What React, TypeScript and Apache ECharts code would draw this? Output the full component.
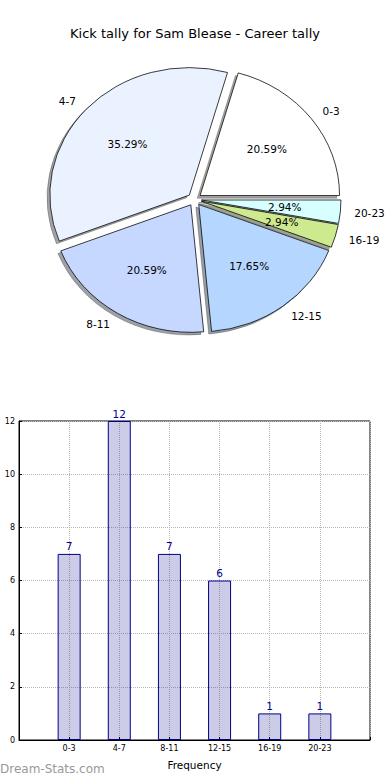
import React, { useEffect, useRef } from 'react';
import * as echarts from 'echarts';

const titleText = 'Kick tally for Sam Blease - Career tally';
const categories = ['0-3', '4-7', '8-11', '12-15', '16-19', '20-23'];
const counts = [7, 12, 7, 6, 1, 1];
const sliceColors = ['#FFFFFF', '#EBF2FF', '#C6D8FF', '#B5D6FF', '#CEEA8E', '#D8FFFF'];
const xAxisName = 'Frequency';
const watermark = 'Dream-Stats.com';

const FONT = 'DejaVu Sans';

function hexToRgb(h: string) {
  const n = parseInt(h.slice(1), 16);
  return [(n >> 16) & 255, (n >> 8) & 255, n & 255];
}

export default function App() {
  const ref = useRef<HTMLDivElement>(null);
  useEffect(() => {
    if (!ref.current) return;
    const chart = echarts.init(ref.current, null, { renderer: 'svg' });
    const total = counts.reduce((a, b) => a + b, 0);
    const P = { cx: 194.5, cy: 199.4, rx: 139.5, ry: 127.5, explode: 0.05 };

    const renderItem = (params: any, api: any) => {
      const i = params.dataIndex;
      const v = api.value(0);
      let before = 0;
      for (let k = 0; k < i; k++) before += counts[k];
      const a0 = (before / total) * Math.PI * 2;
      const a1 = ((before + v) / total) * Math.PI * 2;
      const mid = (a0 + a1) / 2;
      const c = Math.cos(mid);
      const s = Math.sin(mid);
      const ox = P.cx + P.explode * P.rx * c;
      const oy = P.cy - P.explode * P.ry * s;
      const scaleY = P.ry / P.rx;
      const rgb = hexToRgb(sliceColors[i]);
      const shadowFill = `rgba(${Math.round(rgb[0] * 0.3)},${Math.round(rgb[1] * 0.3)},${Math.round(rgb[2] * 0.3)},0.5)`;
      const shape = { cx: 0, cy: 0, r: P.rx, r0: 0, startAngle: -a1, endAngle: -a0, clockwise: true };
      const pct = ((v / total) * 100).toFixed(2) + '%';
      return {
        type: 'group',
        children: [
          {
            type: 'sector',
            x: ox - 2.8,
            y: oy + 2.6,
            scaleY,
            shape,
            z2: 1,
            style: { fill: shadowFill, stroke: shadowFill, lineWidth: 0.8, strokeNoScale: true },
          },
          {
            type: 'sector',
            x: ox,
            y: oy,
            scaleY,
            shape,
            z2: 10,
            style: { fill: sliceColors[i], stroke: '#000', lineWidth: 0.8, strokeNoScale: true },
          },
          {
            type: 'text',
            x: ox + 1.1 * P.rx * c,
            y: oy - 1.1 * P.ry * s,
            z2: 20,
            style: {
              text: categories[i],
              align: c > 0 ? 'left' : 'right',
              verticalAlign: 'middle',
              fontSize: 10.5,
              fontFamily: FONT,
              fill: '#000',
            },
          },
          {
            type: 'text',
            x: ox + 0.6 * P.rx * c,
            y: oy - 0.6 * P.ry * s,
            z2: 20,
            style: {
              text: pct,
              align: 'center',
              verticalAlign: 'middle',
              fontSize: 10.5,
              fontFamily: FONT,
              fill: '#000',
            },
          },
        ],
      };
    };

    chart.setOption({
      animation: false,
      backgroundColor: '#fff',
      textStyle: { fontFamily: FONT },
      title: {
        text: titleText,
        left: 'center',
        top: 22,
        textStyle: { fontSize: 13, fontWeight: 'normal', color: '#000', fontFamily: FONT },
      },
      grid: {
        left: 19,
        right: 20,
        top: 421,
        bottom: 40,
        show: true,
        borderColor: '#000',
        borderWidth: 1,
        backgroundColor: 'transparent',
      },
      xAxis: {
        type: 'value',
        min: -1,
        max: 6,
        interval: 1,
        name: xAxisName,
        nameLocation: 'middle',
        nameGap: 19,
        nameTextStyle: { fontSize: 10.5, color: '#000', fontFamily: FONT },
        axisLine: { show: true, onZero: false, lineStyle: { color: '#000' } },
        axisTick: { show: true, inside: true, length: 3, lineStyle: { color: '#000' } },
        axisLabel: {
          fontSize: 8,
          color: '#000',
          margin: 4,
          formatter: (val: number) => (categories[val] !== undefined ? categories[val] : ''),
        },
        splitLine: { show: true, lineStyle: { type: 'dotted', color: '#b8b8b8', width: 1 } },
      },
      yAxis: {
        type: 'value',
        min: 0,
        max: 12,
        interval: 2,
        axisLine: { show: true, onZero: false, lineStyle: { color: '#000' } },
        axisTick: { show: true, inside: true, length: 3, lineStyle: { color: '#000' } },
        axisLabel: { fontSize: 8, color: '#000', margin: 4 },
        splitLine: { show: true, lineStyle: { type: 'dotted', color: '#b8b8b8', width: 1 } },
      },
      graphic: [
        {
          type: 'text',
          left: 0,
          top: 763,
          style: { text: watermark, fontSize: 12, fill: '#999', fontFamily: FONT },
        },
      ],
      series: [
        {
          type: 'custom',
          coordinateSystem: 'none',
          renderItem,
          data: counts.map((c) => [c]),
          silent: true,
        },
        {
          type: 'bar',
          data: counts.map((c, i) => [i, c]),
          barWidth: 23,
          itemStyle: { color: 'rgba(0,0,128,0.2)', borderColor: '#00008B', borderWidth: 1 },
          label: {
            show: true,
            position: 'top',
            distance: 2,
            fontSize: 10.5,
            color: '#00008B',
            fontFamily: FONT,
          },
        },
      ],
    });
    return () => chart.dispose();
  }, []);
  return <div ref={ref} style={{ position: 'fixed', left: 0, top: 0, width: 390, height: 780 }} />;
}
